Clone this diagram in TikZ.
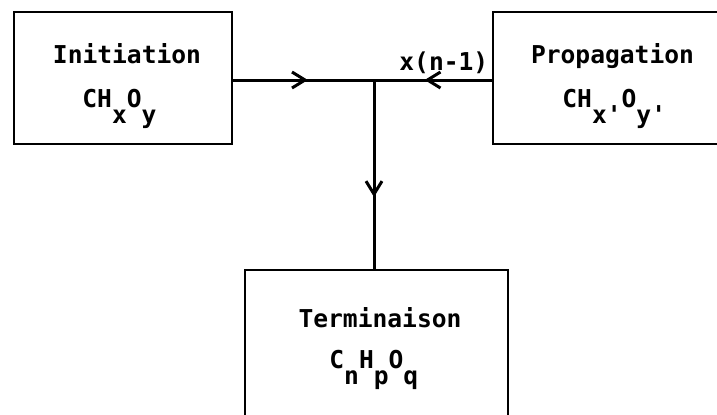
\documentclass[tikz,border=0pt]{standalone}
\usepackage{fontspec}
\setmonofont{DejaVu Sans Mono}
\usetikzlibrary{arrows.meta,decorations.markings}

\newcommand{\lowsub}[1]{\raisebox{-8pt}{#1}}

\tikzset{
  box/.style={draw,line width=1.3pt,inner sep=0pt},
  txt/.style={font=\ttfamily\bfseries\fontsize{12.3}{15}\selectfont,inner sep=0pt},
  flow/.style={line width=1.5pt},
  tipat/.style={postaction={decorate},decoration={markings,
      mark=at position #1 with {\arrow{Straight Barb[length=6.5pt,width=8pt]}}}}
}

\begin{document}
\begin{tikzpicture}[x=1pt,y=1pt]
    \useasboundingbox (0,0) rectangle (358.5,-207);
    \clip (0,0) rectangle (358.5,-207);

    % the three stages
    \node[box,minimum width=109pt,minimum height=66pt] (ini) at (61.5,-39) {};
    \node[box,minimum width=120pt,minimum height=66pt] (prop) at (306.5,-39) {};
    \node[box,minimum width=131.5pt,minimum height=100pt] (term) at (188.25,-185) {};

    \node[txt,anchor=base] (initxt) at (63.5,-31.5) {Initiation};
    \node[txt,anchor=base west] (iniform) at (41,-53.5) {CH\lowsub{x}O\lowsub{y}};
    \node[txt,anchor=base] (proptxt) at (306.25,-31.5) {Propagation};
    \node[txt,anchor=base west] (propform) at (281,-53.5)
      {CH\lowsub{x'}O\lowsub{y'}};
    \node[txt,anchor=base] (termtxt) at (190,-163.5) {Terminaison};
    \node[txt,anchor=base west] (termform) at (164.5,-184)
      {C\lowsub{n}H\lowsub{p}O\lowsub{q}};

    \node[txt,anchor=base west] (factor) at (199.5,-35) {x(n-1)};

    % connectors
    \coordinate (j) at (187,-40);
    \draw[flow,tipat=0.53] (ini.east |- j) -- (j);
    \draw[flow,tipat=0.57] (prop.west |- j) -- (j);
    \draw[flow,tipat=0.62] (j) -- (j |- term.north);
\end{tikzpicture}
\end{document}
